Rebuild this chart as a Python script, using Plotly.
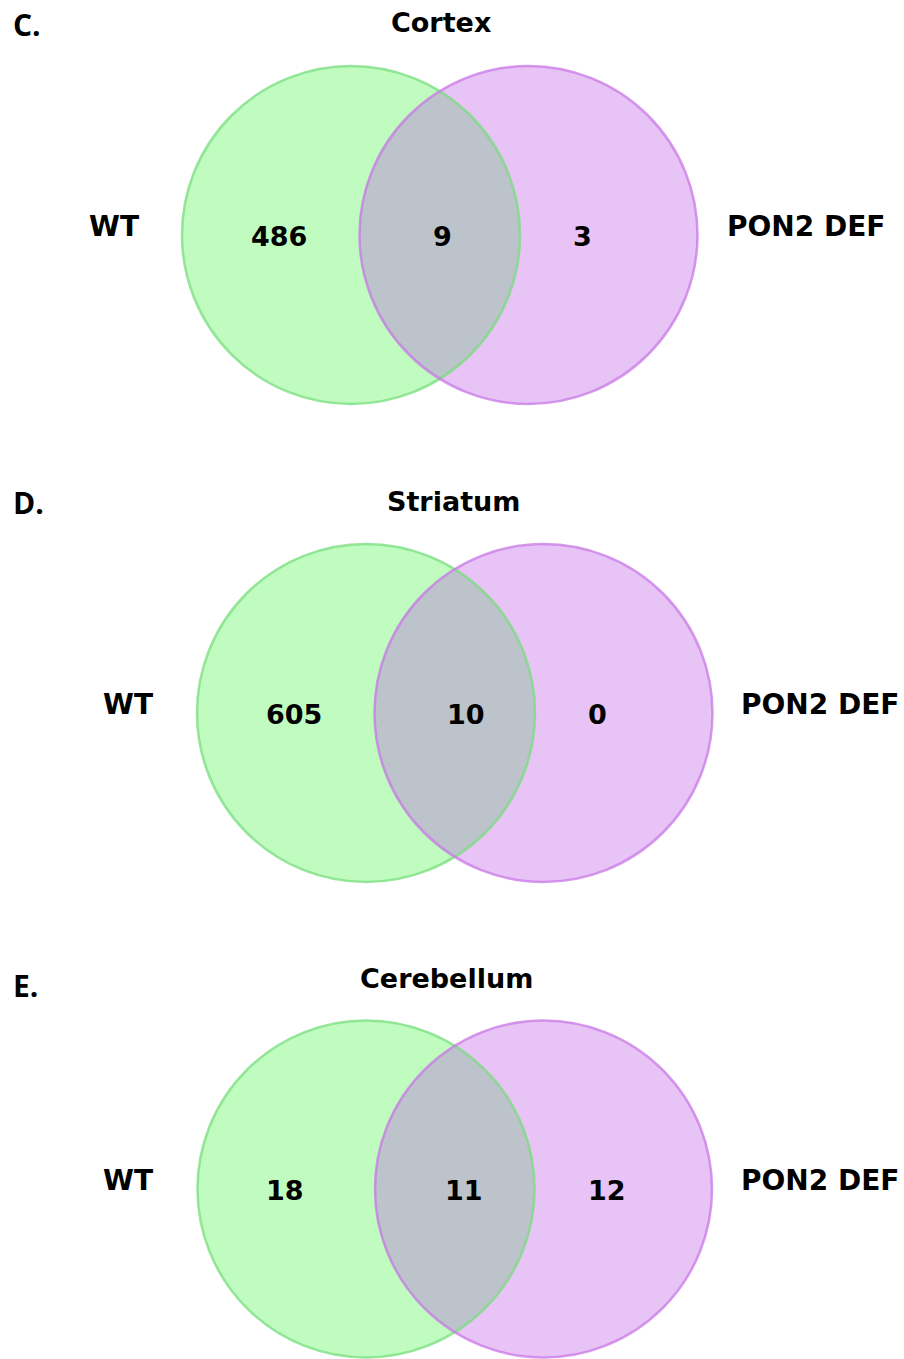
import numpy as np
import plotly.graph_objects as go

# ---- data ----
panel_letters = ["C.", "D.", "E."]
regions = ["Cortex", "Striatum", "Cerebellum"]
set_names = ["WT", "PON2 DEF"]
wt_only = [486, 605, 18]
shared = [9, 10, 11]
def_only = [3, 0, 12]

# ---- layout (pixel geometry of each panel) ----
W, H = 904, 1359
green_cx = [351, 366, 366]
purple_cx = [528.5, 543.5, 543.5]
centre_y = [235, 713, 1189]
radius = [169, 169, 168.5]
title_x = [441, 453, 446]
title_y = [22, 501, 978]
letter_y = [24, 502, 985]
wt_x = [114, 128, 128]
def_x = [806, 820, 820]
set_label_dy = -9
num_dy = 1
num_x = [[279, 442, 582], [294, 466, 597], [285, 464, 607]]

GREEN_FILL = "#C0FBC0"
PURPLE_FILL = "#E8C3F5"
OVERLAP_FILL = "#BCC3CA"
GREEN_LINE = "rgba(120,222,125,0.75)"
PURPLE_LINE = "rgba(200,120,230,0.75)"

BOLD = "DejaVu Sans"

fig = go.Figure()
shapes = []
annotations = []


def lens_path(x1, x2, cy, r, n=120):
    d = x2 - x1
    a = d / 2.0
    h = np.sqrt(r * r - a * a)
    th = np.arctan2(h, a)
    t1 = np.linspace(-th, th, n)
    p1 = [(x1 + r * np.cos(t), cy + r * np.sin(t)) for t in t1]
    t2 = np.linspace(np.pi - th, np.pi + th, n)
    p2 = [(x2 + r * np.cos(t), cy + r * np.sin(t)) for t in t2]
    pts = p1 + p2
    return "M " + " L ".join(f"{x:.2f},{y:.2f}" for x, y in pts) + " Z"


for i in range(3):
    gx, px, cy, r = green_cx[i], purple_cx[i], centre_y[i], radius[i]
    shapes.append(dict(type="circle", xref="x", yref="y", x0=gx - r, x1=gx + r,
                       y0=cy - r, y1=cy + r, fillcolor=GREEN_FILL,
                       line=dict(width=0), layer="below"))
    shapes.append(dict(type="circle", xref="x", yref="y", x0=px - r, x1=px + r,
                       y0=cy - r, y1=cy + r, fillcolor=PURPLE_FILL,
                       line=dict(width=0), layer="below"))
    shapes.append(dict(type="path", xref="x", yref="y", path=lens_path(gx, px, cy, r),
                       fillcolor=OVERLAP_FILL, line=dict(width=0), layer="below"))
    shapes.append(dict(type="circle", xref="x", yref="y", x0=gx - r, x1=gx + r,
                       y0=cy - r, y1=cy + r, fillcolor="rgba(0,0,0,0)",
                       line=dict(width=2.5, color=GREEN_LINE), layer="below"))
    shapes.append(dict(type="circle", xref="x", yref="y", x0=px - r, x1=px + r,
                       y0=cy - r, y1=cy + r, fillcolor="rgba(0,0,0,0)",
                       line=dict(width=2.5, color=PURPLE_LINE), layer="below"))

    annotations.append(dict(x=11, y=letter_y[i], xref="x", yref="y", text=panel_letters[i],
                            showarrow=False, xanchor="left", yanchor="middle",
                            font=dict(family="Open Sans", size=30, color="black", weight="bold")))
    annotations.append(dict(x=title_x[i], y=title_y[i], xref="x", yref="y", text=regions[i],
                            showarrow=False, xanchor="center", yanchor="middle",
                            font=dict(family=BOLD, size=27, color="black", weight="bold")))
    annotations.append(dict(x=wt_x[i], y=cy + set_label_dy, xref="x", yref="y", text=set_names[0],
                            showarrow=False, xanchor="center", yanchor="middle",
                            font=dict(family=BOLD, size=28, color="black", weight="bold")))
    annotations.append(dict(x=def_x[i], y=cy + set_label_dy, xref="x", yref="y", text=set_names[1],
                            showarrow=False, xanchor="center", yanchor="middle",
                            font=dict(family=BOLD, size=28, color="black", weight="bold")))
    for j, val in enumerate([wt_only[i], shared[i], def_only[i]]):
        annotations.append(dict(x=num_x[i][j], y=cy + num_dy, xref="x", yref="y", text=str(val),
                                showarrow=False, xanchor="center", yanchor="middle",
                                font=dict(family=BOLD, size=27, color="black", weight="bold")))

fig.update_layout(
    width=W, height=H,
    margin=dict(l=0, r=0, t=0, b=0),
    paper_bgcolor="white", plot_bgcolor="white",
    shapes=shapes, annotations=annotations,
    showlegend=False,
    xaxis=dict(range=[0, W], visible=False, fixedrange=True),
    yaxis=dict(range=[H, 0], visible=False, fixedrange=True),
)

fig.write_html("out.html")
